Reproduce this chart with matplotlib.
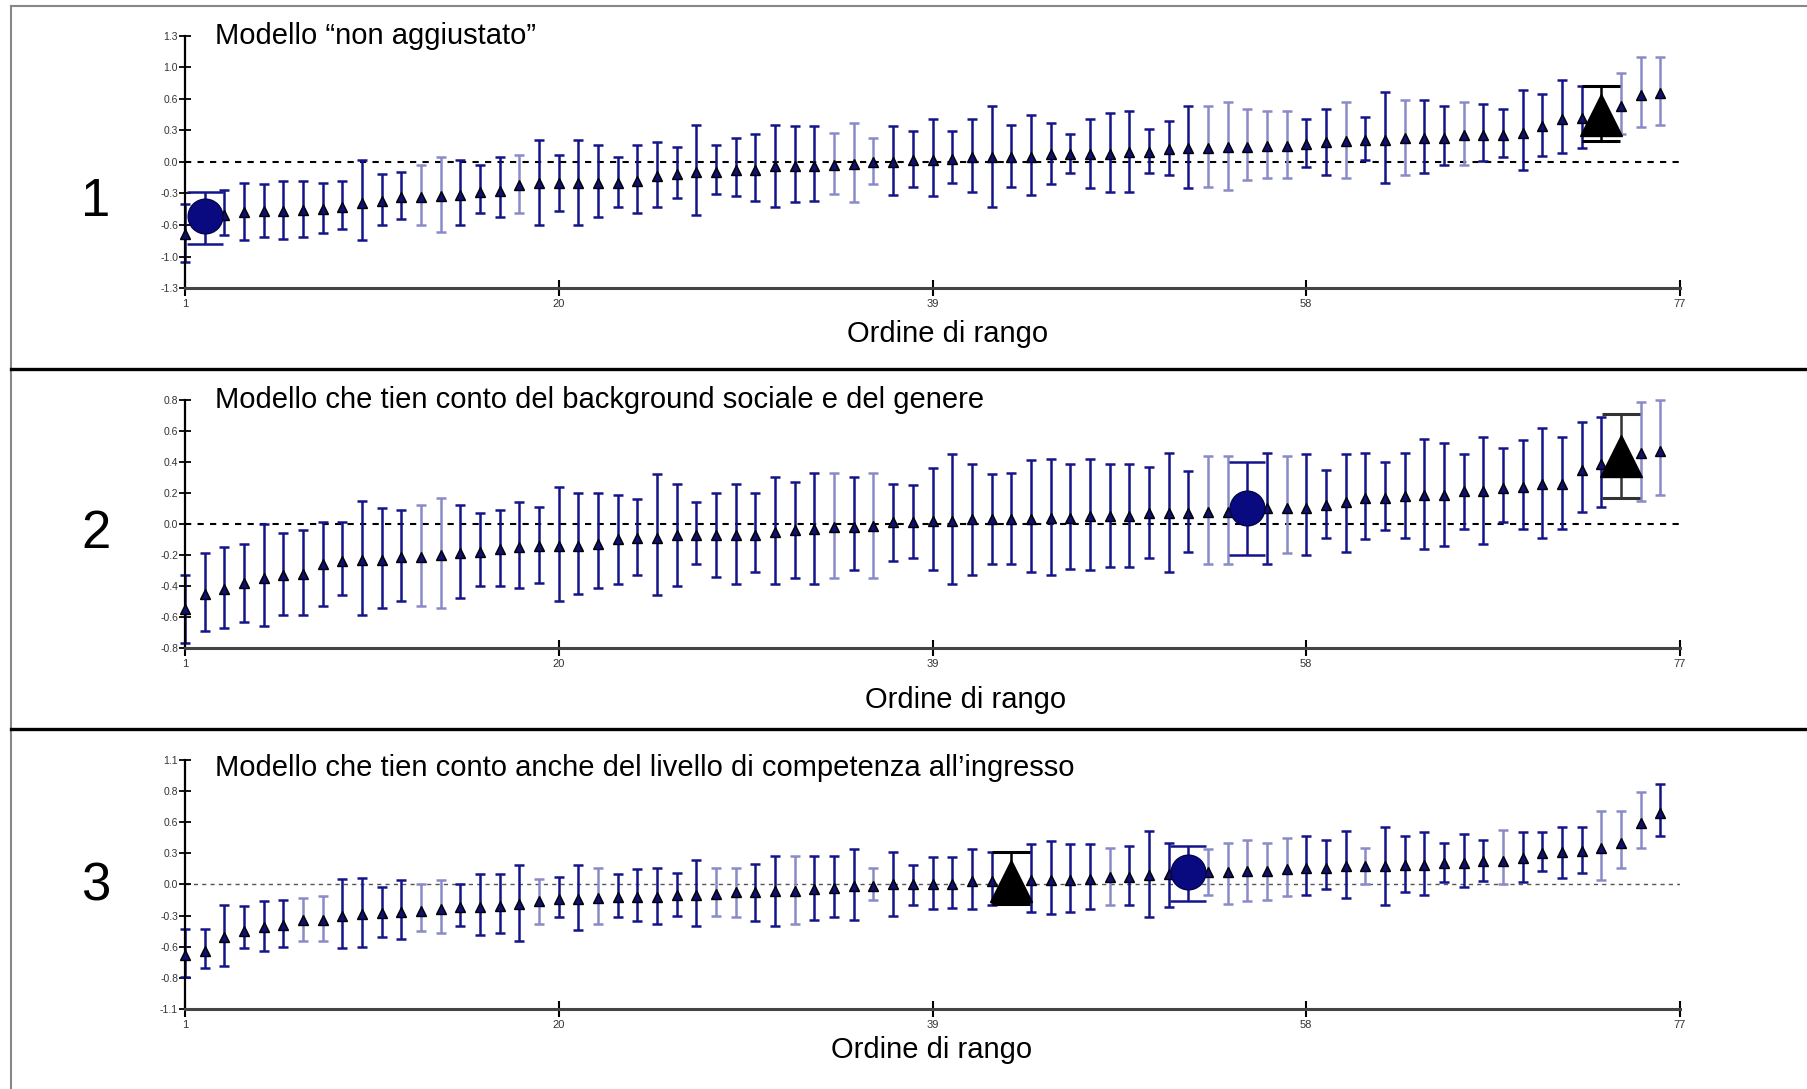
import numpy as np
import matplotlib.pyplot as plt
from matplotlib.lines import Line2D

plt.rcParams['font.family'] = ['Liberation Sans', 'DejaVu Sans']

rank = np.arange(1, 77)

# modello 1: "non aggiustato"
mean_1 = [-0.74, -0.56, -0.55, -0.52, -0.51, -0.51, -0.50, -0.49, -0.46, -0.42,
          -0.40, -0.36, -0.36, -0.35, -0.34, -0.31, -0.30, -0.24, -0.22, -0.22,
          -0.22, -0.22, -0.22, -0.20, -0.15, -0.12, -0.10, -0.10, -0.08, -0.08,
          -0.04, -0.04, -0.04, -0.03, -0.02, 0.00, 0.00, 0.02, 0.02, 0.03,
          0.05, 0.05, 0.05, 0.05, 0.08, 0.08, 0.08, 0.08, 0.10, 0.10,
          0.13, 0.14, 0.14, 0.15, 0.15, 0.16, 0.16, 0.18, 0.20, 0.22,
          0.23, 0.23, 0.25, 0.25, 0.25, 0.28, 0.28, 0.28, 0.30, 0.37,
          0.44, 0.45, 0.48, 0.58, 0.69, 0.71]
high_1 = [-0.43, -0.31, -0.29, -0.22, -0.23, -0.20, -0.20, -0.22, -0.20, 0.02,
          -0.13, -0.10, -0.03, 0.05, 0.02, -0.03, 0.05, 0.07, 0.23, 0.07,
          0.23, 0.17, 0.05, 0.17, 0.21, 0.15, 0.38, 0.17, 0.25, 0.29,
          0.38, 0.37, 0.37, 0.30, 0.40, 0.25, 0.37, 0.32, 0.44, 0.32,
          0.44, 0.58, 0.38, 0.48, 0.40, 0.29, 0.44, 0.50, 0.52, 0.34,
          0.42, 0.58, 0.58, 0.62, 0.54, 0.52, 0.52, 0.44, 0.54, 0.62,
          0.46, 0.72, 0.64, 0.64, 0.58, 0.62, 0.60, 0.54, 0.74, 0.70,
          0.84, 0.78, 0.78, 0.92, 1.08, 1.08]
low_1 = [-1.03, -0.85, -0.75, -0.81, -0.77, -0.79, -0.77, -0.73, -0.69, -0.81,
         -0.65, -0.59, -0.65, -0.72, -0.65, -0.53, -0.57, -0.53, -0.65, -0.51,
         -0.65, -0.57, -0.46, -0.53, -0.46, -0.37, -0.55, -0.33, -0.35, -0.40,
         -0.46, -0.41, -0.40, -0.33, -0.41, -0.23, -0.34, -0.26, -0.35, -0.22,
         -0.31, -0.47, -0.26, -0.34, -0.23, -0.11, -0.27, -0.31, -0.31, -0.11,
         -0.14, -0.27, -0.26, -0.29, -0.19, -0.17, -0.17, -0.05, -0.14, -0.17,
         0.02, -0.22, -0.14, -0.11, -0.03, -0.03, 0.01, 0.05, -0.08, 0.06,
         0.09, 0.14, 0.22, 0.29, 0.36, 0.38]

# modello 2: background sociale e genere
mean_2 = [-0.55, -0.45, -0.42, -0.38, -0.35, -0.33, -0.32, -0.26, -0.24, -0.23,
          -0.23, -0.21, -0.21, -0.20, -0.19, -0.18, -0.16, -0.15, -0.14, -0.14,
          -0.14, -0.13, -0.10, -0.09, -0.09, -0.07, -0.07, -0.07, -0.07, -0.07,
          -0.05, -0.04, -0.03, -0.02, -0.02, -0.01, 0.01, 0.01, 0.02, 0.02,
          0.03, 0.03, 0.03, 0.03, 0.04, 0.04, 0.05, 0.05, 0.05, 0.07,
          0.07, 0.07, 0.08, 0.08, 0.10, 0.10, 0.10, 0.10, 0.12, 0.14,
          0.17, 0.17, 0.18, 0.19, 0.19, 0.21, 0.21, 0.23, 0.24, 0.26,
          0.26, 0.35, 0.39, 0.44, 0.46, 0.47]
high_2 = [-0.33, -0.19, -0.15, -0.13, 0.00, -0.06, -0.04, 0.01, 0.01, 0.15,
          0.10, 0.09, 0.12, 0.17, 0.12, 0.07, 0.09, 0.14, 0.11, 0.24,
          0.20, 0.20, 0.19, 0.16, 0.32, 0.26, 0.14, 0.20, 0.26, 0.20,
          0.30, 0.27, 0.33, 0.33, 0.30, 0.33, 0.26, 0.25, 0.36, 0.45,
          0.39, 0.32, 0.33, 0.41, 0.42, 0.39, 0.42, 0.39, 0.39, 0.37,
          0.46, 0.34, 0.44, 0.44, 0.40, 0.46, 0.44, 0.45, 0.35, 0.45,
          0.46, 0.40, 0.46, 0.55, 0.52, 0.45, 0.56, 0.49, 0.54, 0.62,
          0.56, 0.66, 0.69, 0.71, 0.79, 0.80]
low_2 = [-0.77, -0.69, -0.67, -0.63, -0.66, -0.59, -0.59, -0.53, -0.46, -0.59,
         -0.54, -0.50, -0.53, -0.54, -0.48, -0.40, -0.40, -0.41, -0.38, -0.50,
         -0.45, -0.41, -0.39, -0.33, -0.46, -0.40, -0.26, -0.34, -0.39, -0.31,
         -0.39, -0.35, -0.39, -0.35, -0.30, -0.35, -0.24, -0.22, -0.30, -0.39,
         -0.33, -0.26, -0.26, -0.31, -0.33, -0.29, -0.30, -0.28, -0.28, -0.22,
         -0.31, -0.18, -0.26, -0.26, -0.20, -0.26, -0.19, -0.20, -0.09, -0.18,
         -0.10, -0.04, -0.09, -0.16, -0.14, -0.03, -0.13, 0.01, -0.03, -0.09,
         -0.03, 0.08, 0.11, 0.17, 0.15, 0.19]

# modello 3: anche livello di competenza all'ingresso
mean_3 = [-0.62, -0.59, -0.46, -0.41, -0.38, -0.36, -0.31, -0.31, -0.28, -0.26,
          -0.25, -0.24, -0.23, -0.22, -0.20, -0.20, -0.19, -0.17, -0.15, -0.13,
          -0.13, -0.12, -0.11, -0.11, -0.11, -0.09, -0.09, -0.08, -0.07, -0.07,
          -0.06, -0.06, -0.04, -0.03, -0.01, -0.01, 0.00, 0.00, 0.00, 0.00,
          0.03, 0.03, 0.03, 0.04, 0.04, 0.04, 0.05, 0.07, 0.07, 0.08,
          0.09, 0.11, 0.11, 0.11, 0.12, 0.12, 0.14, 0.15, 0.15, 0.16,
          0.16, 0.16, 0.17, 0.17, 0.19, 0.19, 0.21, 0.21, 0.23, 0.28,
          0.29, 0.30, 0.32, 0.37, 0.54, 0.63]
high_3 = [-0.39, -0.39, -0.18, -0.19, -0.15, -0.14, -0.12, -0.10, 0.05, 0.06,
          -0.02, 0.04, 0.00, 0.04, 0.00, 0.09, 0.09, 0.17, 0.05, 0.07,
          0.17, 0.15, 0.09, 0.14, 0.15, 0.10, 0.22, 0.15, 0.15, 0.18,
          0.25, 0.25, 0.25, 0.25, 0.31, 0.15, 0.29, 0.17, 0.24, 0.24,
          0.31, 0.29, 0.29, 0.36, 0.38, 0.36, 0.36, 0.32, 0.34, 0.47,
          0.37, 0.34, 0.31, 0.37, 0.39, 0.37, 0.41, 0.43, 0.39, 0.47,
          0.32, 0.51, 0.43, 0.46, 0.37, 0.45, 0.39, 0.48, 0.46, 0.46,
          0.51, 0.51, 0.65, 0.65, 0.82, 0.89]
low_3 = [-0.82, -0.74, -0.72, -0.56, -0.59, -0.55, -0.50, -0.50, -0.56, -0.55,
         -0.46, -0.48, -0.41, -0.43, -0.37, -0.45, -0.43, -0.50, -0.35, -0.29,
         -0.40, -0.35, -0.29, -0.32, -0.35, -0.28, -0.37, -0.28, -0.29, -0.32,
         -0.37, -0.35, -0.31, -0.29, -0.31, -0.14, -0.28, -0.18, -0.22, -0.21,
         -0.22, -0.18, -0.17, -0.24, -0.26, -0.24, -0.22, -0.18, -0.18, -0.29,
         -0.20, -0.15, -0.09, -0.17, -0.15, -0.14, -0.10, -0.09, -0.04, -0.12,
         0.00, -0.18, -0.07, -0.09, 0.02, -0.02, 0.03, 0.00, 0.02, 0.12,
         0.06, 0.10, 0.04, 0.15, 0.32, 0.43]

titles = ['Modello \u201cnon aggiustato\u201d',
          'Modello che tien conto del background sociale e del genere',
          'Modello che tien conto anche del livello di competenza all\u2019ingresso']
ylims = [1.3, 0.8, 1.1]
ytick_labels = [['-1.3', '-1.0', '-0.6', '-0.3', '0.0', '0.3', '0.6', '1.0', '1.3'],
                ['-0.8', '-0.6', '-0.4', '-0.2', '0.0', '0.2', '0.4', '0.6', '0.8'],
                ['-1.1', '-0.8', '-0.6', '-0.3', '0.0', '0.3', '0.6', '0.8', '1.1']]
xticks = [1, 20, 39, 58, 77]
# scuole evidenziate (cerchio / triangolo grande)
circle_rank = [2, 55, 52]
triangle_rank = [73, 74, 43]
# barre disegnate in blu chiaro
light_bars = [[13, 14, 18, 34, 35, 36, 53, 54, 55, 56, 57, 60, 63, 66, 74, 75, 76],
              [13, 14, 34, 36, 53, 54, 57, 74, 75, 76],
              [7, 8, 13, 14, 19, 22, 28, 29, 32, 36, 48, 53, 54, 55, 56, 57, 61, 68, 73, 74, 75]]

means = [mean_1, mean_2, mean_3]
lows = [low_1, low_2, low_3]
highs = [high_1, high_2, high_3]

navy = '#14148a'
light = '#8a8ac8'

fig = plt.figure(figsize=(18.07, 10.89), dpi=100)

axes_pos = [[0.1024, 0.7355, 0.8273, 0.2317],
            [0.1024, 0.4050, 0.8273, 0.2277],
            [0.1024, 0.0735, 0.8273, 0.2286]]
title_y = [0.9672, 0.6327, 0.2952]
xlabel_pos = [(0.5246, 0.6933), (0.5346, 0.3572), (0.5158, 0.0358)]
number_y = [0.8182, 0.5133, 0.1901]

for k in range(3):
    ax = fig.add_axes(axes_pos[k])
    m = np.array(means[k])
    lo = np.array(lows[k])
    hi = np.array(highs[k])
    special = np.isin(rank, [circle_rank[k], triangle_rank[k]])
    is_light = np.isin(rank, light_bars[k])

    zero_col = '#555555' if k == 2 else 'black'
    zero_lw = 1.0 if k == 2 else 1.5
    ax.axhline(0, color=zero_col, ls=(0, (3, 3)), lw=zero_lw, zorder=1)

    for sel, col in [(~special & ~is_light, navy), (~special & is_light, light)]:
        ax.errorbar(rank[sel], m[sel],
                    yerr=[m[sel] - lo[sel], hi[sel] - m[sel]],
                    fmt='none', ecolor=col, elinewidth=1.8, capsize=3.5,
                    capthick=1.8, clip_on=False, zorder=2)
    ax.plot(rank[~special], m[~special], ls='none', marker='^', markersize=7,
            markerfacecolor='#10106e', markeredgecolor='black', clip_on=False, zorder=3)

    # cerchio blu
    ci = circle_rank[k] - 1
    ax.errorbar(rank[ci], m[ci], yerr=[[m[ci] - lo[ci]], [hi[ci] - m[ci]]],
                fmt='o', color='#0a0a80', markersize=25, markeredgecolor='#05054a',
                ecolor=navy, elinewidth=1.8, capsize=13, capthick=1.8,
                clip_on=False, zorder=4)
    # triangolo nero
    ti = triangle_rank[k] - 1
    ax.errorbar(rank[ti], m[ti], yerr=[[m[ti] - lo[ti]], [hi[ti] - m[ti]]],
                fmt='^', color='black', markersize=30,
                ecolor='#333333' if k == 1 else 'black', elinewidth=1.8,
                capsize=14, capthick=2.2, clip_on=False, zorder=4)

    lim = ylims[k]
    ax.set_xlim(1, 77)
    ax.set_ylim(-lim, lim)
    ax.set_yticks(np.linspace(-lim, lim, 9))
    ax.set_yticklabels(ytick_labels[k])
    ax.set_xticks(xticks)
    ax.set_xticklabels([str(t) for t in xticks])
    ax.tick_params(axis='y', direction='inout', length=8, width=1.3, labelsize=7.5,
                   labelcolor='#333333', pad=1)
    ax.tick_params(axis='x', direction='inout', length=12, width=1.5, labelsize=8,
                   labelcolor='#333333', pad=2)
    for side in ['top', 'right']:
        ax.spines[side].set_visible(False)
    ax.spines['left'].set_linewidth(1.6)
    ax.spines['left'].set_color('black')
    ax.spines['bottom'].set_linewidth(2.2)
    ax.spines['bottom'].set_color('#444444')
    ax.patch.set_alpha(0)

    fig.text(215 / 1807, title_y[k], titles[k], fontsize=21, ha='left', va='center')
    fig.text(xlabel_pos[k][0], xlabel_pos[k][1], 'Ordine di rango', fontsize=21,
             ha='center', va='center')
    fig.text(0.0531, number_y[k] - 0.004, str(k + 1), fontsize=38, ha='center', va='center')

# cornice e separatori
fig.add_artist(Line2D([0.0061, 0.0061], [0, 0.9945], transform=fig.transFigure,
                      color='#888888', lw=1.5))
fig.add_artist(Line2D([0.0061, 1], [0.9945, 0.9945], transform=fig.transFigure,
                      color='#888888', lw=1.5))
for yy in [0.6612, 0.3306]:
    fig.add_artist(Line2D([0.0061, 1], [yy, yy], transform=fig.transFigure,
                          color='black', lw=2.4))

fig.savefig('out.png', dpi=100)
